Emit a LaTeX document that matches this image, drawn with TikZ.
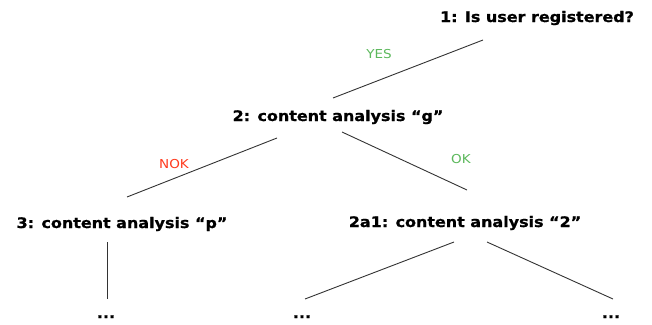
\documentclass[tikz,border=0pt]{standalone}
\usepackage{fontspec}
\setmainfont[FakeStretch=1.1,BoldFeatures={FakeStretch=1.1,FakeBold=1}]{DejaVu Sans}
\usetikzlibrary{calc}
\definecolor{yesgreen}{HTML}{5CB85C}
\definecolor{nokred}{HTML}{FF3B1F}
\begin{document}
\begin{tikzpicture}[x=1pt,y=-1pt,
  tnode/.style={anchor=base,inner sep=0pt,font=\fontsize{14.5}{17}\selectfont\bfseries},
  lbl/.style={anchor=base,inner sep=0pt,font=\fontsize{12.3}{14}\selectfont},
  edge/.style={draw=black!80,line width=0.9pt}]
\useasboundingbox (0,0) rectangle (652,324);
\node[tnode] (n1) at (537,22) {1: Is user registered?};
\node[tnode] (n2) at (338,121) {2: content analysis “g”};
\node[tnode] (n3) at (122,228) {3: content analysis “p”};
\node[tnode] (n2a1) at (465,227) {2a1: content analysis “2”};
\node[tnode] (d3) at (106,318) {...};
\node[tnode] (dl) at (302,318) {...};
\node[tnode] (dr) at (611,318) {...};
\node[lbl,text=yesgreen] (yes) at (379,58) {YES};
\node[lbl,text=nokred] (nok) at (174,168) {NOK};
\node[lbl,text=yesgreen] (ok) at (461,163) {OK};
\draw[edge] ($(n1.base)+(-54,18)$) -- ($(n2.base)+(-5,-23)$);
\draw[edge] ($(n2.base)+(-61,17)$) -- ($(n3.base)+(5,-31)$);
\draw[edge] ($(n2.base)+(4,11)$) -- ($(n2a1.base)+(2,-37)$);
\draw[edge] ($(n3.base)+(-15,14)$) -- ($(d3.base)+(1,-19)$);
\draw[edge] ($(n2a1.base)+(-11,15)$) -- ($(dl.base)+(3,-19)$);
\draw[edge] ($(n2a1.base)+(22,15)$) -- ($(dr.base)+(2,-19)$);
\end{tikzpicture}
\end{document}
